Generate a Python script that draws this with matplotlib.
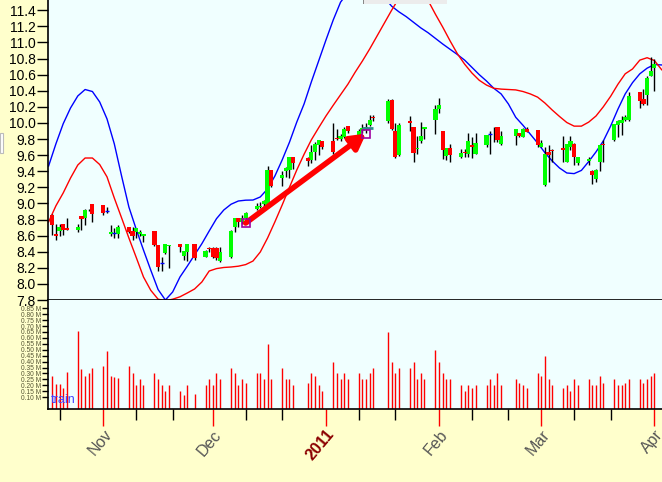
import matplotlib
matplotlib.use("Agg")
import matplotlib.pyplot as plt
import matplotlib.dates as mdates
from matplotlib.patches import Rectangle
import numpy as np
import pandas as pd

plt.rcParams['font.family'] = ['Liberation Sans', 'DejaVu Sans']

# daily candles (open, high, low, close)
days = ["2010-10-18", "2010-10-19", "2010-10-20", "2010-10-21", "2010-10-22",
        "2010-10-25", "2010-10-26", "2010-10-27", "2010-10-28", "2010-10-29",
        "2010-11-01", "2010-11-02", "2010-11-03", "2010-11-04", "2010-11-05",
        "2010-11-08", "2010-11-09", "2010-11-10", "2010-11-11", "2010-11-12",
        "2010-11-15", "2010-11-16", "2010-11-17", "2010-11-18", "2010-11-19",
        "2010-11-22", "2010-11-23", "2010-11-24", "2010-11-26",
        "2010-11-29", "2010-11-30", "2010-12-01", "2010-12-02", "2010-12-03",
        "2010-12-06", "2010-12-07", "2010-12-08", "2010-12-09", "2010-12-10",
        "2010-12-13", "2010-12-14", "2010-12-15", "2010-12-16", "2010-12-17",
        "2010-12-20", "2010-12-21", "2010-12-22", "2010-12-23",
        "2010-12-27", "2010-12-28", "2010-12-29", "2010-12-30", "2010-12-31",
        "2011-01-03", "2011-01-04", "2011-01-05", "2011-01-06", "2011-01-07",
        "2011-01-10", "2011-01-11", "2011-01-12", "2011-01-13", "2011-01-14",
        "2011-01-18", "2011-01-19", "2011-01-20", "2011-01-21",
        "2011-01-24", "2011-01-25", "2011-01-26", "2011-01-27", "2011-01-28",
        "2011-01-31", "2011-02-01", "2011-02-02", "2011-02-03", "2011-02-04",
        "2011-02-07", "2011-02-08", "2011-02-09", "2011-02-10", "2011-02-11",
        "2011-02-14", "2011-02-15", "2011-02-16", "2011-02-17", "2011-02-18",
        "2011-02-22", "2011-02-23", "2011-02-24", "2011-02-25",
        "2011-02-28", "2011-03-01", "2011-03-02", "2011-03-03", "2011-03-04",
        "2011-03-07", "2011-03-08", "2011-03-09", "2011-03-10", "2011-03-11",
        "2011-03-14", "2011-03-15", "2011-03-16", "2011-03-17", "2011-03-18",
        "2011-03-21", "2011-03-22", "2011-03-23", "2011-03-24", "2011-03-25",
        "2011-03-28", "2011-03-29", "2011-03-30", "2011-03-31", "2011-04-01"]

opens = [8.85, 8.62, 8.66, 8.74, 8.69, 8.67, 8.84, 8.82, 8.90, 8.99,
         8.98, 8.90, 8.62, 8.63, 8.62, 8.71, 8.66, 8.64, 8.62, 8.59,
         8.66, 8.48, 8.26, 8.39, 8.47, 8.50, 8.35, 8.40, 8.50,
         8.34, 8.45, 8.45, 8.44, 8.28, 8.34, 8.71, 8.82, 8.77, 8.82,
         8.93, 8.96, 8.99, 8.98, 9.42, 9.31, 9.40, 9.42, 9.58,
         9.56, 9.54, 9.64, 9.73, 9.78, 9.78, 9.81, 9.80, 9.83, 9.96,
         9.84, 9.90, 9.93, 9.97, 10.07, 10.02, 10.29, 9.90, 9.60,
         10.02, 9.95, 9.68, 9.77, 9.92, 10.04, 10.17, 9.90, 9.59, 9.69,
         9.58, 9.64, 9.62, 9.72, 9.62, 9.73, 9.86, 9.93, 9.95, 9.74,
         9.84, 9.87, 9.83, 9.92, 9.91, 9.70, 9.23, 9.64, 9.66,
         9.69, 9.52, 9.70, 9.74, 9.50, 9.53, 9.40, 9.30, 9.52, 9.74,
         9.79, 9.97, 10.00, 10.03, 10.03, 10.39, 10.30, 10.35, 10.58, 10.68]

highs = [8.87, 8.75, 8.75, 8.75, 8.82, 8.75, 8.84, 8.93, 8.93, 8.99,
         8.98, 8.96, 8.73, 8.70, 8.73, 8.71, 8.71, 8.70, 8.67, 8.62,
         8.66, 8.48, 8.34, 8.50, 8.48, 8.50, 8.41, 8.49, 8.50,
         8.42, 8.46, 8.46, 8.46, 8.46, 8.67, 8.82, 8.82, 8.86, 8.89,
         9.01, 9.02, 9.04, 9.47, 9.42, 9.40, 9.45, 9.58, 9.58,
         9.58, 9.72, 9.76, 9.79, 9.78, 10.00, 9.93, 9.86, 9.95, 9.96,
         9.93, 9.99, 10.00, 10.10, 10.10, 10.30, 10.30, 10.00, 10.00,
         10.08, 9.95, 9.84, 10.01, 9.95, 10.22, 10.31, 9.90, 9.69, 9.74,
         9.67, 9.68, 9.87, 9.82, 9.87, 9.85, 9.90, 9.95, 9.95, 9.90,
         9.92, 9.88, 9.94, 9.95, 9.91, 9.79, 9.70, 9.73, 9.68,
         9.84, 9.74, 9.84, 9.75, 9.58, 9.58, 9.42, 9.43, 9.73, 9.79,
         9.99, 10.03, 10.08, 10.10, 10.39, 10.39, 10.42, 10.58, 10.82, 10.80]

lows = [8.61, 8.55, 8.60, 8.61, 8.67, 8.65, 8.67, 8.73, 8.90, 8.77,
        8.86, 8.88, 8.59, 8.57, 8.57, 8.63, 8.55, 8.57, 8.59, 8.52,
        8.47, 8.16, 8.16, 8.37, 8.20, 8.40, 8.30, 8.28, 8.30,
        8.33, 8.40, 8.32, 8.30, 8.27, 8.32, 8.65, 8.71, 8.75, 8.76,
        8.92, 8.94, 8.96, 8.94, 9.21, 9.22, 9.33, 9.31, 9.43,
        9.46, 9.50, 9.54, 9.60, 9.68, 9.61, 9.79, 9.78, 9.81, 9.87,
        9.80, 9.87, 9.87, 9.96, 10.02, 10.00, 9.91, 9.57, 9.59,
        9.90, 9.52, 9.62, 9.75, 9.80, 9.86, 10.12, 9.55, 9.54, 9.52,
        9.56, 9.58, 9.58, 9.57, 9.62, 9.70, 9.62, 9.76, 9.76, 9.73,
        9.73, 9.82, 9.82, 9.89, 9.70, 9.70, 9.22, 9.27, 9.51,
        9.52, 9.51, 9.66, 9.48, 9.48, 9.48, 9.24, 9.26, 9.40, 9.52,
        9.78, 9.82, 9.85, 10.02, 10.02, 10.18, 10.22, 10.22, 10.58, 10.40]

closes = [8.73, 8.60, 8.71, 8.67, 8.67, 8.71, 8.81, 8.92, 8.91, 8.87,
          8.88, 8.90, 8.65, 8.63, 8.71, 8.64, 8.59, 8.69, 8.64, 8.62,
          8.48, 8.21, 8.26, 8.49, 8.48, 8.46, 8.41, 8.49, 8.32,
          8.41, 8.43, 8.33, 8.32, 8.40, 8.66, 8.82, 8.77, 8.82, 8.88,
          8.97, 8.97, 9.03, 9.42, 9.22, 9.35, 9.44, 9.58, 9.50,
          9.53, 9.64, 9.74, 9.79, 9.70, 9.64, 9.80, 9.84, 9.93, 9.90,
          9.90, 9.94, 9.95, 10.04, 10.06, 10.27, 9.93, 9.58, 9.97,
          10.00, 9.63, 9.69, 9.84, 9.95, 10.17, 10.22, 9.66, 9.69, 9.60,
          9.63, 9.63, 9.77, 9.70, 9.75, 9.85, 9.86, 9.92, 9.79, 9.84,
          9.92, 9.84, 9.93, 9.89, 9.73, 9.75, 9.62, 9.60, 9.65,
          9.66, 9.74, 9.77, 9.58, 9.58, 9.55, 9.35, 9.42, 9.73, 9.73,
          9.99, 10.02, 10.04, 10.07, 10.34, 10.27, 10.23, 10.56, 10.64, 10.73]

# volume in millions
volumes = [0.28, 0.21, 0.21, 0.18, 0.31, 0.66, 0.34, 0.28, 0.30, 0.35,
           0.36, 0.49, 0.28, 0.27, 0.26, 0.36, 0.30, 0.20, 0.25, 0.20,
           0.30, 0.25, 0.20, 0.15, 0.20, 0.15, 0.12, 0.20, 0.13,
           0.20, 0.25, 0.20, 0.30, 0.25, 0.35, 0.30, 0.20, 0.25, 0.22,
           0.30, 0.30, 0.25, 0.55, 0.25, 0.35, 0.25, 0.25, 0.20,
           0.22, 0.30, 0.28, 0.20, 0.15, 0.40, 0.30, 0.25, 0.30, 0.25,
           0.30, 0.25, 0.25, 0.30, 0.35, 0.65, 0.40, 0.30, 0.35,
           0.35, 0.40, 0.25, 0.30, 0.25, 0.50, 0.40, 0.30, 0.25, 0.25,
           0.20, 0.15, 0.20, 0.18, 0.20, 0.20, 0.25, 0.20, 0.30, 0.20,
           0.25, 0.22, 0.20, 0.18, 0.30, 0.28, 0.45, 0.25, 0.20,
           0.18, 0.20, 0.15, 0.25, 0.20, 0.25, 0.20, 0.20, 0.28, 0.22,
           0.25, 0.20, 0.20, 0.22, 0.25, 0.25, 0.22, 0.25, 0.28, 0.30]

# the two smooth curves, read every second day from 2010-10-17 to 2011-04-03
curve_start, curve_end = "2010-10-17", "2011-04-03"
blue_curve = [9.465, 9.74, 9.99, 10.185, 10.335, 10.415, 10.39, 10.26,
              10.05, 9.74, 9.34, 8.955, 8.68, 8.42, 8.17, 7.93, 7.80, 7.90,
              8.086, 8.22, 8.36, 8.50, 8.657,
              8.81, 8.918, 8.99, 9.03, 9.04, 9.042, 9.08, 9.18, 9.34, 9.54,
              9.76, 10.01, 10.235, 10.51, 10.77,
              11.03, 11.28, 11.50, 11.62, 11.70, 11.75, 11.76, 11.70, 11.56,
              11.45, 11.38, 11.32, 11.25, 11.18, 11.12, 11.05,
              10.98, 10.915, 10.85, 10.78, 10.69, 10.60, 10.52, 10.43, 10.36,
              10.235, 10.07, 9.97, 9.86, 9.75,
              9.63, 9.527, 9.44, 9.378, 9.37, 9.41, 9.52, 9.64, 9.775, 9.96,
              10.17, 10.36, 10.50, 10.61, 10.68,
              10.725, 10.72]
red_curve = [8.77, 8.97, 9.13, 9.315, 9.477, 9.564, 9.564, 9.483,
             9.33, 9.067, 8.82, 8.57, 8.33, 8.086, 7.92, 7.81, 7.79, 7.81,
             7.84, 7.887, 7.937, 8.024, 8.16,
             8.19, 8.204, 8.21, 8.22, 8.24, 8.284, 8.396, 8.57, 8.77, 8.98,
             9.20, 9.415, 9.61, 9.79, 9.94,
             10.086, 10.22, 10.35, 10.48, 10.63, 10.77, 10.92, 11.08, 11.24,
             11.40, 11.55, 11.62, 11.65, 11.62, 11.52, 11.35,
             11.19, 11.02, 10.86, 10.73, 10.62, 10.53, 10.47, 10.43, 10.42,
             10.415, 10.41, 10.39, 10.36, 10.32,
             10.247, 10.16, 10.08, 10.005, 9.96, 9.96, 10.01, 10.086, 10.20, 10.33,
             10.48, 10.61, 10.67, 10.78, 10.81,
             10.775, 10.66]

# arrow drawn on the chart
arrow_from = ("2010-12-10", 8.756)
arrow_to = ("2011-01-12", 9.868)

price_ticks = np.round(np.arange(7.8, 11.41, 0.2), 1)
vol_ticks = np.round(np.arange(0.10, 0.851, 0.05), 2)

x = mdates.datestr2num(days)
o = np.array(opens)
h = np.array(highs)
l = np.array(lows)
c = np.array(closes)
cx = mdates.date2num(pd.date_range(curve_start, curve_end, freq='2D').to_pydatetime())

fig = plt.figure(figsize=(6.62, 4.82), dpi=100, facecolor='#FFFFCC')
ax = fig.add_axes([48 / 662, 182 / 482, 614 / 662, 300 / 482], facecolor='#F0FFFF')
axv = fig.add_axes([48 / 662, 73 / 482, 614 / 662, 109 / 482], facecolor='#F0FFFF', sharex=ax)

# curves
ax.plot(cx, blue_curve, color='#0000FF', lw=1.0, zorder=2)
ax.plot(cx, red_curve, color='#FF0000', lw=1.0, zorder=2)

# candles
ax.vlines(x, l, h, color='black', lw=1.0, zorder=3)
up = c > o + 0.004
down = c < o - 0.004
flat = ~(up | down)
w = 1.15
ax.bar(x[up], (c - o)[up], bottom=o[up], width=w, color='#00FF00', lw=0, zorder=4)
ax.bar(x[down], (c - o)[down], bottom=o[down], width=w, color='#FF0000', lw=0, zorder=4)
ax.hlines(c[flat], x[flat] - w / 2, x[flat] + w / 2, color='#0000FF', lw=1.0, zorder=4)

# arrow with end markers
a0 = (mdates.datestr2num(arrow_from[0]), arrow_from[1])
a1 = (mdates.datestr2num(arrow_to[0]), arrow_to[1])
ax.annotate('', xy=a1, xytext=a0,
            arrowprops=dict(arrowstyle='-|>,head_length=0.9,head_width=0.5',
                            color='#FF0000', lw=4, shrinkA=0, shrinkB=0), zorder=6)
ax.plot([a0[0], a1[0]], [a0[1], a1[1]], ls='none', marker='s', ms=6,
        mfc='none', mec='#A000A0', mew=1.2, zorder=7)
ax.hlines(9.94, mdates.datestr2num("2011-01-11"), mdates.datestr2num("2011-01-14"),
          color='#2E8B8B', lw=2, zorder=5)

ax.set_ylim(7.8, 11.527)
ax.set_yticks(price_ticks)
ax.set_yticklabels([f"{v:.1f}" for v in price_ticks], fontsize=10)
ax.tick_params(axis='y', length=8, width=1, pad=1)
ax.tick_params(axis='x', which='both', bottom=False, labelbottom=False)
for s in ['top', 'right']:
    ax.spines[s].set_visible(False)
ax.spines['left'].set_linewidth(1.2)
ax.spines['bottom'].set_linewidth(1.2)

# volume
axv.vlines(x, 0, volumes, color='#FF0000', lw=1.0)
axv.set_ylim(0, 0.92)
axv.set_yticks(vol_ticks)
axv.set_yticklabels([f"{v:.2f} M" for v in vol_ticks], fontsize=4.8, color='#555533')
axv.tick_params(axis='y', length=4, width=1, pad=1)
for s in ['top', 'right']:
    axv.spines[s].set_visible(False)
axv.spines['left'].set_linewidth(1.2)
axv.spines['bottom'].set_linewidth(1.2)
axv.text(0.004, 0.03, 'train', transform=axv.transAxes, color='#4040FF', fontsize=9,
         va='bottom', ha='left')

axv.set_xlim(mdates.datestr2num("2010-10-16 20:00"), mdates.datestr2num("2011-04-03 02:00"))
axv.xaxis.set_major_locator(mdates.MonthLocator())
axv.xaxis.set_minor_locator(mdates.DayLocator(bymonthday=[10, 20]))


def month_label(v, pos=None):
    d = mdates.num2date(v)
    return str(d.year) if d.month == 1 else d.strftime('%b')


axv.xaxis.set_major_formatter(plt.FuncFormatter(month_label))
axv.tick_params(axis='x', which='major', length=12, width=1, color='#FF0000', pad=1)
axv.tick_params(axis='x', which='minor', length=8, width=1, color='black')
for lab in axv.get_xticklabels():
    lab.set_rotation(50)
    lab.set_ha('right')
    lab.set_va('top')
    lab.set_rotation_mode('anchor')
    lab.set_fontsize(11.5)
    if lab.get_text() == '2011':
        lab.set_color('#8B0000')
        lab.set_fontweight('bold')
    else:
        lab.set_color('#555555')

# small boxes that sit at the edges of the reference
fig.patches.append(Rectangle((363 / 662, 1 - 4 / 482), 84 / 662, 4 / 482,
                             transform=fig.transFigure, facecolor='#ECECEC',
                             edgecolor='none', zorder=10))
fig.patches.append(Rectangle((363 / 662, 1 - 4 / 482), 1 / 662, 4 / 482,
                             transform=fig.transFigure, facecolor='#888888',
                             edgecolor='none', zorder=11))
fig.patches.append(Rectangle((0, 1 - 153 / 482), 3 / 662, 20 / 482,
                             transform=fig.transFigure, facecolor='white',
                             edgecolor='#BBBBBB', lw=0.8, zorder=10))

fig.savefig('out.png', dpi=100, facecolor=fig.get_facecolor())
